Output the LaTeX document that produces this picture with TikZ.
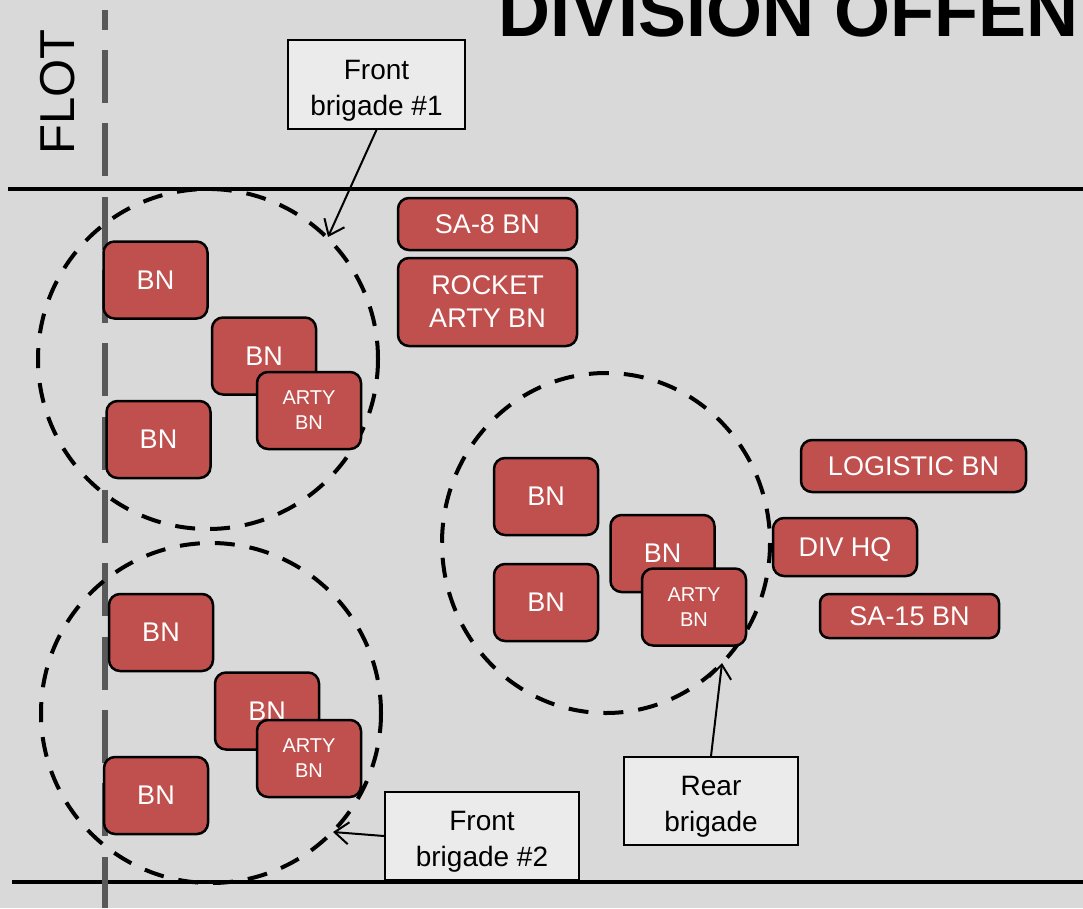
\documentclass[tikz,border=0pt]{standalone}
\usepackage{fontspec}
\setmainfont{Liberation Sans}
\usetikzlibrary{arrows.meta}
\definecolor{bg}{HTML}{D9D9D9}
\definecolor{unitred}{HTML}{C0504D}
\definecolor{labfill}{HTML}{EBEBEB}
\definecolor{flotgray}{HTML}{595959}
\begin{document}
\begin{tikzpicture}[x=1pt,y=-1pt,
  unit/.style={draw=black, line width=2.5pt, fill=unitred, rounded corners=11pt, text=white, align=center, inner sep=0pt, font=\fontsize{27}{33}\selectfont},
  bn/.style={unit, minimum width=104pt, minimum height=77pt},
  arty/.style={bn, font=\fontsize{20}{25}\selectfont},
  lab/.style={draw=black, line width=1.8pt, fill=labfill, align=center, inner sep=0pt, text depth=0pt, font=\fontsize{28}{36}\selectfont},
  brig/.style={draw=black, line width=4pt, dash pattern=on 20pt off 15pt},
  arr/.style={line width=2pt, -{Straight Barb[length=14pt,width=22pt,line width=2pt]}},
  rule/.style={line width=4pt, draw=black}]
\useasboundingbox (0,0) rectangle (1083,908);
\clip (0,0) rectangle (1083,908);
\fill[bg] (0,0) rectangle (1083,908);
% ground lines
\draw[rule] (8,188.5) -- (1083,188.5);
\draw[rule] (12,882) -- (1083,882);
% FLOT
\draw[flotgray, line width=6pt, dash pattern=on 53pt off 20.33pt, dash phase=33.33pt] (105,10) -- (105,908);
\node[rotate=90, inner sep=0pt, font=\fontsize{49}{49}\selectfont] (flot) at (57.5,92) {FLOT};
% title
\node[anchor=base west, inner sep=0pt, font=\fontsize{72}{72}\selectfont\bfseries] (title) at (498,36) {DIVISION OFFEN};
% brigade circles
\draw[brig] (208,359) circle [radius=170];
\draw[brig] (211,713) circle [radius=170];
\draw[brig] (606,543) ellipse [x radius=164, y radius=170];
\coordinate (t1) at (328,237);
\coordinate (t2) at (333,832);
\coordinate (t3) at (722,663);
% labels
\node[lab, minimum width=177pt, minimum height=89pt] (lab1) at (376.5,84.5) {\strut Front\\brigade \#1};
\node[lab, minimum width=194pt, minimum height=88pt] (lab2) at (482,836) {\strut Front\\brigade \#2};
\node[lab, minimum width=174pt, minimum height=88pt] (lab3) at (711,801) {\strut Rear\\brigade};
\draw[arr] (lab1.south) -- (t1);
\draw[arr] (lab2.west) -- (t2);
\draw[arr] (lab3.north) -- (t3);
% front brigade 1
\node[bn] (f1a) at (155.5,280) {BN};
\node[bn] (f1b) at (264,356) {BN};
\node[arty] (f1c) at (309,410.5) {ARTY\\BN};
\node[bn] (f1d) at (158.5,439.5) {BN};
% front brigade 2
\node[bn] (f2a) at (161,632.5) {BN};
\node[bn] (f2b) at (267,711) {BN};
\node[arty] (f2c) at (309,758.5) {ARTY\\BN};
\node[bn] (f2d) at (156,795.5) {BN};
% rear brigade
\node[bn] (r1) at (546,496.5) {BN};
\node[bn] (r2) at (546,602.5) {BN};
\node[bn] (r3) at (662.5,553.5) {BN};
\node[arty] (r4) at (694,607) {ARTY\\BN};
% division units
\node[unit, minimum width=179pt, minimum height=52pt] (sa8) at (487.5,224) {SA-8 BN};
\node[unit, minimum width=179pt, minimum height=88pt] (rocket) at (487.5,302) {ROCKET\\ARTY BN};
\node[unit, minimum width=225pt, minimum height=52pt] (log) at (913.5,466) {LOGISTIC BN};
\node[unit, minimum width=144pt, minimum height=58pt, text depth=0pt] (divhq) at (845,547) {DIV HQ};
\node[unit, minimum width=179pt, minimum height=44pt, rounded corners=9pt] (sa15) at (909.5,616) {SA-15 BN};
\end{tikzpicture}
\end{document}
